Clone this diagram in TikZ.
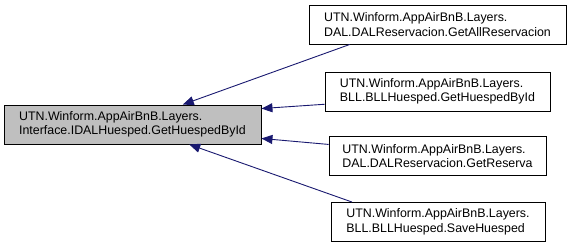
\documentclass[tikz,border=0pt]{standalone}
\usepackage{fontspec}
\setmainfont{Liberation Sans}
\usetikzlibrary{arrows.meta,calc}
\definecolor{edgeblue}{HTML}{191970}
\definecolor{focusgray}{HTML}{BFBFBF}
\begin{document}
\begin{tikzpicture}[x=1pt,y=-1pt,
  fn/.style={draw=black,line width=0.9pt,fill=white,inner sep=0pt,align=left,
    font=\fontsize{12.4}{14.5}\selectfont,minimum height=39pt},
  focus/.style={fn,fill=focusgray},
  calledby/.style={draw=edgeblue,line width=0.9pt,
    {Triangle[length=11pt,width=9pt,fill=edgeblue]}-}]
\useasboundingbox (0,0) rectangle (571,248);
\node[focus,minimum width=257pt] (main) at (132.5,124.5)
  {UTN.Winform.AppAirBnB.Layers.\\Interface.IDALHuesped.GetHuespedById};
\node[fn,minimum width=257pt] (n1) at (437.5,24.5)
  {UTN.Winform.AppAirBnB.Layers.\\DAL.DALReservacion.GetAllReservacion};
\node[fn,minimum width=225pt] (n2) at (437.5,91.5)
  {UTN.Winform.AppAirBnB.Layers.\\BLL.BLLHuesped.GetHuespedById};
\node[fn,minimum width=217pt] (n3) at (437.5,156)
  {UTN.Winform.AppAirBnB.Layers.\\DAL.DALReservacion.GetReserva};
\node[fn,minimum width=214pt] (n4) at (438,222)
  {UTN.Winform.AppAirBnB.Layers.\\BLL.BLLHuesped.SaveHuesped};
% callers point back at the interface method
\draw[calledby] ($(main.north west)!0.695!(main.north east)$) -- ($(n1.south west)!0.16!(n1.south east)$);
\draw[calledby] ($(main.north east)!0.1!(main.south east)$) -- ($(n2.north west)!0.82!(n2.south west)$);
\draw[calledby] ($(main.north east)!0.85!(main.south east)$) -- ($(n3.north west)!0.21!(n3.south west)$);
\draw[calledby] ($(main.south west)!0.72!(main.south east)$) -- ($(n4.north west)!0.10!(n4.north east)$);
\end{tikzpicture}
\end{document}
